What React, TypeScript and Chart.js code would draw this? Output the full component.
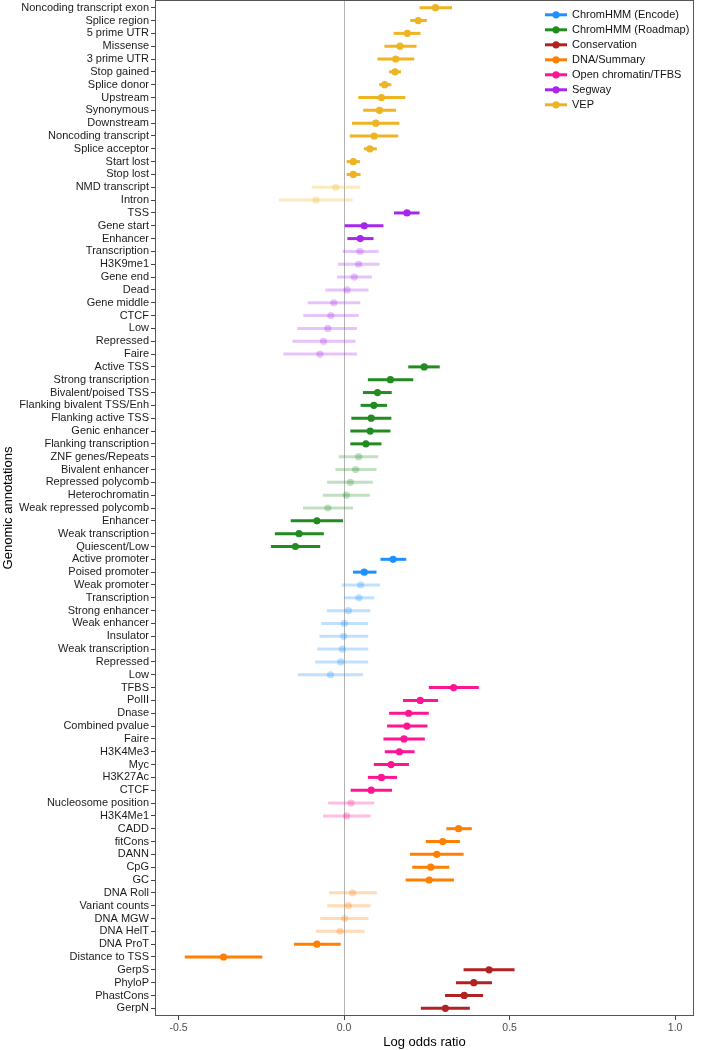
import React, { useEffect, useRef } from "react";
import { Chart, registerables } from "chart.js";

Chart.register(...registerables);

const annotationLabels = [
  "Noncoding transcript exon", "Splice region", "5 prime UTR", "Missense", "3 prime UTR",
  "Stop gained", "Splice donor", "Upstream", "Synonymous", "Downstream",
  "Noncoding transcript", "Splice acceptor", "Start lost", "Stop lost", "NMD transcript", "Intron",
  "TSS", "Gene start", "Enhancer", "Transcription", "H3K9me1", "Gene end", "Dead",
  "Gene middle", "CTCF", "Low", "Repressed", "Faire",
  "Active TSS", "Strong transcription", "Bivalent/poised TSS", "Flanking bivalent TSS/Enh",
  "Flanking active TSS", "Genic enhancer", "Flanking transcription", "ZNF genes/Repeats",
  "Bivalent enhancer", "Repressed polycomb", "Heterochromatin", "Weak repressed polycomb",
  "Enhancer", "Weak transcription", "Quiescent/Low",
  "Active promoter", "Poised promoter", "Weak promoter", "Transcription", "Strong enhancer",
  "Weak enhancer", "Insulator", "Weak transcription", "Repressed", "Low",
  "TFBS", "PolII", "Dnase", "Combined pvalue", "Faire", "H3K4Me3", "Myc", "H3K27Ac",
  "CTCF", "Nucleosome position", "H3K4Me1",
  "CADD", "fitCons", "DANN", "CpG", "GC", "DNA Roll", "Variant counts", "DNA MGW",
  "DNA HelT", "DNA ProT", "Distance to TSS",
  "GerpS", "PhyloP", "PhastCons", "GerpN",
];

const annotationGroups = [
  "VEP", "VEP", "VEP", "VEP", "VEP", "VEP", "VEP", "VEP", "VEP", "VEP", "VEP", "VEP", "VEP", "VEP", "VEP", "VEP",
  "Segway", "Segway", "Segway", "Segway", "Segway", "Segway", "Segway", "Segway", "Segway", "Segway", "Segway", "Segway",
  "ChromHMM (Roadmap)", "ChromHMM (Roadmap)", "ChromHMM (Roadmap)", "ChromHMM (Roadmap)", "ChromHMM (Roadmap)",
  "ChromHMM (Roadmap)", "ChromHMM (Roadmap)", "ChromHMM (Roadmap)", "ChromHMM (Roadmap)", "ChromHMM (Roadmap)",
  "ChromHMM (Roadmap)", "ChromHMM (Roadmap)", "ChromHMM (Roadmap)", "ChromHMM (Roadmap)", "ChromHMM (Roadmap)",
  "ChromHMM (Encode)", "ChromHMM (Encode)", "ChromHMM (Encode)", "ChromHMM (Encode)", "ChromHMM (Encode)",
  "ChromHMM (Encode)", "ChromHMM (Encode)", "ChromHMM (Encode)", "ChromHMM (Encode)", "ChromHMM (Encode)",
  "Open chromatin/TFBS", "Open chromatin/TFBS", "Open chromatin/TFBS", "Open chromatin/TFBS", "Open chromatin/TFBS",
  "Open chromatin/TFBS", "Open chromatin/TFBS", "Open chromatin/TFBS", "Open chromatin/TFBS", "Open chromatin/TFBS",
  "Open chromatin/TFBS",
  "DNA/Summary", "DNA/Summary", "DNA/Summary", "DNA/Summary", "DNA/Summary", "DNA/Summary", "DNA/Summary",
  "DNA/Summary", "DNA/Summary", "DNA/Summary", "DNA/Summary",
  "Conservation", "Conservation", "Conservation", "Conservation",
];

const estimates = [
  0.276, 0.224, 0.191, 0.169, 0.156, 0.154, 0.123, 0.113, 0.107, 0.096, 0.091, 0.078, 0.028, 0.028, -0.025, -0.085,
  0.190, 0.061, 0.049, 0.048, 0.044, 0.031, 0.009, -0.031, -0.040, -0.049, -0.062, -0.073,
  0.242, 0.140, 0.101, 0.090, 0.082, 0.079, 0.066, 0.044, 0.035, 0.019, 0.007, -0.049, -0.082, -0.136, -0.147,
  0.148, 0.061, 0.050, 0.045, 0.013, 0.001, -0.001, -0.005, -0.010, -0.041,
  0.331, 0.230, 0.195, 0.190, 0.181, 0.167, 0.142, 0.113, 0.082, 0.021, 0.008,
  0.346, 0.298, 0.280, 0.262, 0.257, 0.026, 0.013, 0.002, -0.012, -0.082, -0.364,
  0.438, 0.392, 0.363, 0.306,
];

const lowerCI = [
  0.228, 0.200, 0.150, 0.122, 0.101, 0.136, 0.106, 0.043, 0.058, 0.024, 0.017, 0.060, 0.008, 0.008, -0.098, -0.197,
  0.151, 0.002, 0.010, -0.004, -0.018, -0.021, -0.056, -0.110, -0.123, -0.141, -0.156, -0.183,
  0.194, 0.072, 0.057, 0.050, 0.022, 0.019, 0.019, -0.016, -0.026, -0.051, -0.064, -0.124, -0.161, -0.209, -0.221,
  0.110, 0.027, -0.007, 0.001, -0.052, -0.069, -0.074, -0.081, -0.087, -0.139,
  0.256, 0.178, 0.136, 0.130, 0.119, 0.123, 0.090, 0.072, 0.020, -0.048, -0.063,
  0.309, 0.247, 0.199, 0.206, 0.186, -0.045, -0.051, -0.072, -0.085, -0.151, -0.481,
  0.361, 0.338, 0.305, 0.232,
];

const upperCI = [
  0.326, 0.250, 0.231, 0.219, 0.212, 0.172, 0.143, 0.185, 0.157, 0.167, 0.163, 0.099, 0.048, 0.050, 0.048, 0.026,
  0.228, 0.119, 0.089, 0.104, 0.107, 0.084, 0.074, 0.049, 0.044, 0.039, 0.035, 0.039,
  0.289, 0.209, 0.144, 0.130, 0.143, 0.140, 0.113, 0.103, 0.098, 0.087, 0.078, 0.027, -0.003, -0.061, -0.072,
  0.188, 0.098, 0.109, 0.091, 0.079, 0.073, 0.073, 0.073, 0.073, 0.057,
  0.407, 0.284, 0.256, 0.252, 0.244, 0.213, 0.196, 0.160, 0.145, 0.091, 0.080,
  0.386, 0.350, 0.361, 0.318, 0.332, 0.099, 0.080, 0.074, 0.062, -0.010, -0.247,
  0.515, 0.447, 0.420, 0.380,
];

const significant = [
  1, 1, 1, 1, 1, 1, 1, 1, 1, 1, 1, 1, 1, 1, 0, 0,
  1, 1, 1, 0, 0, 0, 0, 0, 0, 0, 0, 0,
  1, 1, 1, 1, 1, 1, 1, 0, 0, 0, 0, 0, 1, 1, 1,
  1, 1, 0, 0, 0, 0, 0, 0, 0, 0,
  1, 1, 1, 1, 1, 1, 1, 1, 1, 0, 0,
  1, 1, 1, 1, 1, 0, 0, 0, 0, 1, 1,
  1, 1, 1, 1,
];

const groupNames = [
  "ChromHMM (Encode)", "ChromHMM (Roadmap)", "Conservation", "DNA/Summary",
  "Open chromatin/TFBS", "Segway", "VEP",
];
const groupColors = ["#1E90FF", "#228B22", "#B22222", "#FF7F00", "#FF1493", "#A626EE", "#EEB422"];

const xTickValues = [-0.5, 0, 0.5, 1.0];

const FONT = "'Liberation Sans', Arial, Helvetica, sans-serif";

function fade(hex: string, a: number) {
  const r = parseInt(hex.slice(1, 3), 16);
  const g = parseInt(hex.slice(3, 5), 16);
  const b = parseInt(hex.slice(5, 7), 16);
  return `rgba(${r},${g},${b},${a})`;
}

const frameLegendPlugin = {
  id: "frameLegend",
  afterDraw(chart: any) {
    const { ctx, chartArea } = chart;
    ctx.save();
    ctx.strokeStyle = "#555555";
    ctx.lineWidth = 1;
    ctx.strokeRect(
      Math.round(chartArea.left) + 0.5,
      Math.round(chartArea.top) + 0.5,
      Math.round(chartArea.right - chartArea.left) - 1,
      Math.round(chartArea.bottom - chartArea.top) - 1
    );
    const lx0 = 545, lx1 = 567, tx = 572, y0 = 14.8, dy = 15;
    ctx.font = `11px ${FONT}`;
    ctx.textBaseline = "middle";
    ctx.textAlign = "left";
    groupNames.forEach((name, i) => {
      const y = y0 + i * dy;
      const c = groupColors[i];
      ctx.strokeStyle = c;
      ctx.lineWidth = 3;
      ctx.beginPath();
      ctx.moveTo(lx0, y);
      ctx.lineTo(lx1, y);
      ctx.stroke();
      ctx.fillStyle = c;
      ctx.beginPath();
      ctx.arc((lx0 + lx1) / 2, y, 3.6, 0, Math.PI * 2);
      ctx.fill();
      ctx.fillStyle = "#111111";
      ctx.fillText(name, tx, y);
    });
    ctx.restore();
  },
};

export default function App() {
  const canvasRef = useRef<HTMLCanvasElement | null>(null);

  useEffect(() => {
    if (!canvasRef.current) return;
    const datasets: any[] = [];
    groupNames.forEach((g, gi) => {
      const color = groupColors[gi];
      const rows = annotationLabels.map((_, i) => i).filter((i) => annotationGroups[i] === g);
      datasets.push({
        type: "bar",
        label: g + " CI",
        indexAxis: "y",
        grouped: false,
        maxBarThickness: 3,
        borderWidth: 0,
        order: 2,
        xAxisID: "x",
        yAxisID: "y",
        data: rows.map((i) => ({ x: [lowerCI[i], upperCI[i]], y: i })),
        backgroundColor: rows.map((i) => (significant[i] ? color : fade(color, 0.28))),
      });
      datasets.push({
        type: "scatter",
        label: g,
        order: 1,
        xAxisID: "x",
        yAxisID: "y",
        data: rows.map((i) => ({ x: estimates[i], y: i })),
        pointRadius: 3.6,
        pointBorderWidth: 0,
        pointBackgroundColor: rows.map((i) => (significant[i] ? color : fade(color, 0.28))),
      });
    });

    const chart = new Chart(canvasRef.current, {
      type: "scatter",
      data: { datasets },
      options: {
        animation: false,
        responsive: false,
        devicePixelRatio: 1,
        events: [],
        layout: { autoPadding: false, padding: { top: 0, right: 7, bottom: 0, left: 0 } },
        plugins: { legend: { display: false }, tooltip: { enabled: false } },
        scales: {
          x: {
            type: "linear",
            position: "bottom",
            offset: false,
            min: -0.571,
            max: 1.057,
            border: { display: false },
            grid: {
              offset: false,
              drawOnChartArea: true,
              drawTicks: true,
              tickLength: 4,
              tickColor: "#444444",
              lineWidth: 1,
              color: (ctx: any) => (ctx.tick && ctx.tick.value === 0 ? "#b3b3b3" : "rgba(0,0,0,0)"),
            },
            ticks: {
              autoSkip: false,
              maxRotation: 0,
              padding: 2,
              color: "#4d4d4d",
              font: { size: 10.5, family: FONT },
              callback: (v: any) => Number(v).toFixed(1),
            },
            title: {
              display: true,
              text: "Log odds ratio",
              color: "#000000",
              font: { size: 13, family: FONT },
              padding: { top: 0, bottom: 0 },
            },
            afterBuildTicks: (axis: any) => {
              axis.ticks = xTickValues.map((v) => ({ value: v }));
            },
            afterFit: (s: any) => {
              s.height = 34;
              s.paddingLeft = 0;
              s.paddingRight = 0;
            },
          },
          y: {
            type: "linear",
            position: "left",
            reverse: true,
            offset: false,
            min: -0.6,
            max: annotationLabels.length - 1 + 0.6,
            border: { display: false },
            grid: {
              offset: false,
              drawOnChartArea: false,
              drawTicks: true,
              tickLength: 4,
              tickColor: "#444444",
            },
            ticks: {
              autoSkip: false,
              padding: 2,
              color: "#1a1a1a",
              font: { size: 11, family: FONT },
              callback: (v: any) => annotationLabels[Math.round(Number(v))],
            },
            title: {
              display: true,
              text: "Genomic annotations",
              color: "#000000",
              font: { size: 13, family: FONT },
              padding: { top: 1, bottom: 0 },
            },
            afterBuildTicks: (axis: any) => {
              axis.ticks = annotationLabels.map((_, i) => ({ value: i }));
            },
            afterFit: (s: any) => {
              s.width = 155;
              s.paddingTop = 0;
              s.paddingBottom = 0;
            },
          },
        },
      },
      plugins: [frameLegendPlugin],
    } as any);

    return () => chart.destroy();
  }, []);

  return (
    <canvas
      ref={canvasRef}
      width={701}
      height={1050}
      style={{ position: "absolute", left: 0, top: 0, width: 701, height: 1050, display: "block" }}
    />
  );
}
